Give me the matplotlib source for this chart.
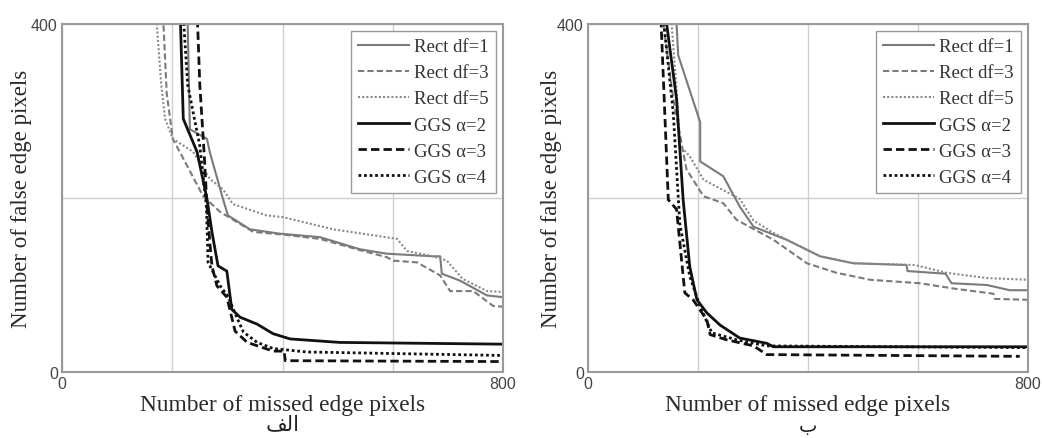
import matplotlib
matplotlib.use("Agg")
import matplotlib.pyplot as plt

# ---------------- data: left panel (الف) ----------------
L_rect1_x = [225, 228, 232, 263, 268, 292, 301, 341, 395, 468, 541, 589, 673, 686, 689, 722, 771, 800]
L_rect1_y = [420, 400, 279, 268, 253, 199, 180, 164, 159, 155, 141, 136, 133, 133, 113, 105, 88, 86]
L_rect3_x = [182, 184, 190, 201, 227, 256, 287, 347, 400, 468, 541, 589, 601, 644, 686, 704, 746, 782, 800]
L_rect3_y = [420, 400, 320, 268, 237, 202, 184, 161, 158, 153, 140, 132, 128, 126, 111, 93, 93, 76, 75]
L_rect5_x = [170, 172, 180, 187, 201, 238, 268, 292, 310, 371, 401, 492, 608, 626, 673, 698, 727, 771, 800]
L_rect5_y = [420, 400, 330, 291, 268, 253, 222, 210, 193, 180, 178, 164, 153, 139, 133, 128, 107, 93, 92]
L_ggs2_x = [213, 215, 220, 245, 263, 272, 283, 299, 308, 323, 354, 383, 414, 504, 800]
L_ggs2_y = [420, 400, 291, 253, 199, 161, 122, 116, 72, 63, 55, 44, 38, 34, 32]
L_ggs3_x = [244, 246, 250, 258, 263, 268, 272, 281, 299, 314, 336, 383, 403, 405, 800]
L_ggs3_y = [420, 400, 330, 250, 191, 150, 122, 99, 86, 47, 34, 24, 24, 13, 12]
L_ggs4_x = [219, 221, 228, 250, 262, 265, 287, 301, 317, 329, 354, 383, 444, 800]
L_ggs4_y = [420, 400, 330, 260, 190, 126, 99, 87, 63, 46, 34, 27, 23, 19]

# ---------------- data: right panel (ب) ----------------
R_rect1_x = [160, 161, 164, 204, 204, 246, 276, 301, 361, 422, 482, 579, 581, 650, 661, 725, 767, 800]
R_rect1_y = [420, 400, 364, 287, 242, 225, 190, 167, 152, 133, 125, 123, 116, 113, 102, 100, 94, 94]
R_rect3_x = [135, 137, 155, 179, 210, 246, 270, 337, 398, 452, 513, 604, 664, 737, 740, 800]
R_rect3_y = [420, 400, 314, 233, 202, 194, 175, 152, 125, 114, 106, 102, 96, 90, 84, 83]
R_rect5_x = [150, 152, 161, 167, 185, 210, 276, 301, 337, 422, 482, 594, 652, 725, 800]
R_rect5_y = [420, 400, 325, 260, 248, 221, 199, 174, 160, 133, 125, 123, 114, 108, 106]
R_ggs2_x = [141, 143, 161, 173, 185, 198, 216, 240, 276, 325, 337, 800]
R_ggs2_y = [420, 400, 314, 198, 121, 83, 68, 54, 39, 33, 29, 29]
R_ggs3_x = [131, 133, 146, 161, 176, 191, 216, 222, 252, 301, 325, 785]
R_ggs3_y = [420, 400, 198, 187, 91, 83, 60, 43, 37, 30, 20, 18]
R_ggs4_x = [136, 138, 155, 167, 185, 204, 225, 270, 325, 800]
R_ggs4_y = [420, 400, 298, 170, 110, 75, 45, 37, 30, 28]

series_labels = ["Rect df=1", "Rect df=3", "Rect df=5",
                 "GGS α=2", "GGS α=3", "GGS α=4"]
x_ticks = [0, 200, 400, 600, 800]
x_ticklabels = ["0", "", "", "", "800"]
y_ticks = [0, 200, 400]
y_ticklabels = ["0", "", "400"]
xlabel = "Number of missed edge pixels"
ylabel = "Number of false edge pixels"
# Arabic panel captions (presentation forms, visual order): "الف" and "ب"
caption_left = "\uFED2\uFEDF\uFE8D"
caption_right = "\uFE8F"

left_data = [(L_rect1_x, L_rect1_y), (L_rect3_x, L_rect3_y), (L_rect5_x, L_rect5_y),
             (L_ggs2_x, L_ggs2_y), (L_ggs3_x, L_ggs3_y), (L_ggs4_x, L_ggs4_y)]
right_data = [(R_rect1_x, R_rect1_y), (R_rect3_x, R_rect3_y), (R_rect5_x, R_rect5_y),
              (R_ggs2_x, R_ggs2_y), (R_ggs3_x, R_ggs3_y), (R_ggs4_x, R_ggs4_y)]

styles = [
    dict(color="#7a7a7a", lw=1.5, ls="-"),
    dict(color="#7a7a7a", lw=1.5, ls=(0, (3, 1.5))),
    dict(color="#8a8a8a", lw=1.5, ls=(0, (1, 1))),
    dict(color="#111111", lw=2.0, ls="-"),
    dict(color="#111111", lw=2.0, ls=(0, (3, 1.5))),
    dict(color="#111111", lw=2.0, ls=(0, (1, 1))),
]

SERIF = ["Liberation Serif", "DejaVu Serif"]
SANS = ["Liberation Sans", "DejaVu Sans"]

fig = plt.figure(figsize=(10.42, 4.39), dpi=100)
axL = fig.add_axes([62 / 1042, 1 - 373 / 439, 441 / 1042, 348 / 439])
axR = fig.add_axes([588 / 1042, 1 - 373 / 439, 440 / 1042, 348 / 439])


def draw(ax, data, ylab_x, caption, cap_y, cap_size):
    for (xs, ys), st, lab in zip(data, styles, series_labels):
        ax.plot(xs, ys, label=lab, **st)
    ax.set_xlim(0, 800)
    ax.set_ylim(0, 400)
    ax.set_xticks(x_ticks)
    ax.set_xticklabels(x_ticklabels, family=SANS, fontsize=11.5, color="#444444")
    ax.set_yticks(y_ticks)
    ax.set_yticklabels(y_ticklabels, family=SANS, fontsize=11.5, color="#444444")
    ax.tick_params(length=0, pad=3)
    ax.grid(True, color="#cfcfcf", lw=1.0)
    ax.set_axisbelow(True)
    for sp in ax.spines.values():
        sp.set_color("#9a9a9a")
        sp.set_linewidth(1.5)
    ax.set_xlabel(xlabel, family=SERIF, fontsize=16.8, color="#2a2a2a", labelpad=2)
    ax.set_ylabel(ylabel, family=SERIF, fontsize=16.5, color="#2a2a2a")
    ax.yaxis.set_label_coords(ylab_x, 0.5)
    leg = ax.legend(loc="upper right", prop={"family": SERIF, "size": 13.5},
                    fancybox=False, edgecolor="#9a9a9a", framealpha=1,
                    handlelength=2.7, handletextpad=0.3, labelspacing=0.48,
                    borderpad=0.4, borderaxespad=0.35)
    leg.get_frame().set_linewidth(1.0)
    for t in leg.get_texts():
        t.set_color("#333333")
    ax.text(0.5, cap_y, caption, transform=ax.transAxes, ha="center", va="center",
            family=["DejaVu Sans"], fontsize=cap_size, color="#222222")


draw(axL, left_data, -0.068, caption_left, -0.147, 15)
draw(axR, right_data, -0.06, caption_right, -0.155, 14)

fig.savefig("out.png", dpi=100)
